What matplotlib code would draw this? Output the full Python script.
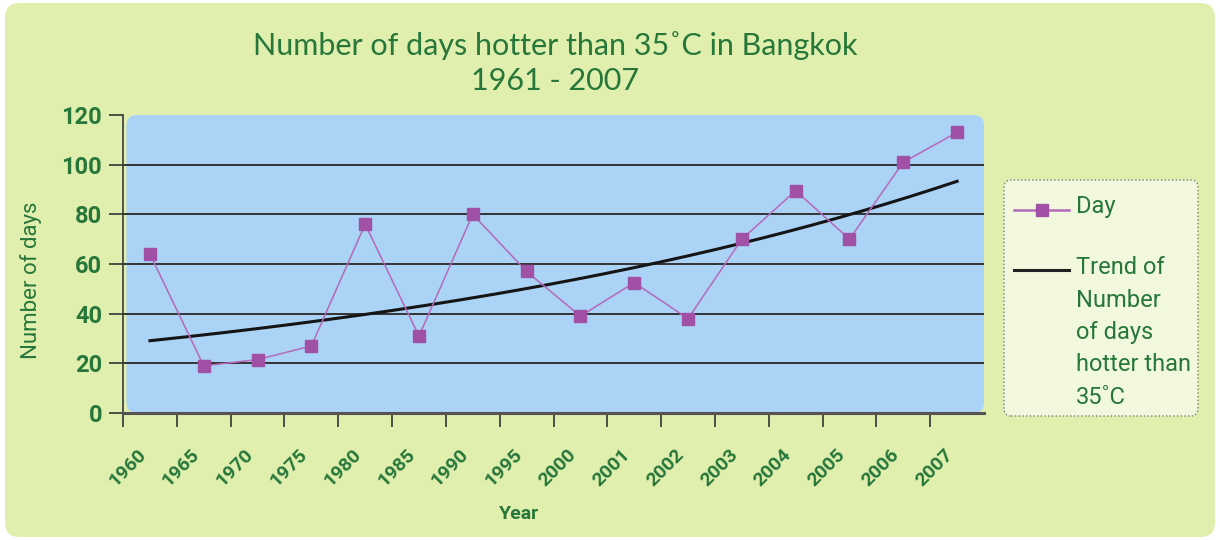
import numpy as np
import matplotlib.pyplot as plt
from matplotlib.patches import FancyBboxPatch
from matplotlib.lines import Line2D
from matplotlib.transforms import ScaledTranslation

# Datos del gráfico
years = ["1960", "1965", "1970", "1975", "1980", "1985", "1990", "1995",
         "2000", "2001", "2002", "2003", "2004", "2005", "2006", "2007"]
days = [64, 19, 21.5, 27, 76, 31, 80, 57, 39, 52.5, 38, 70, 89.5, 70, 101, 113]
y_ticks = [0, 20, 40, 60, 80, 100, 120]
day_label = "Day"
trend_label = "Trend of\nNumber\nof days\nhotter than\n35˚C"

green = "#27773a"
bg_green = "#e0efae"
plot_blue = "#abd3f5"
purple = "#a050a5"
line_purple = "#b46ab8"
fuente = ["Roboto", "DejaVu Sans"]

W, H = 1220, 540


def fx(px):
    return px / W


def fy(py):
    return 1 - py / H


x = np.arange(len(years))

# Tendencia exponencial (ajuste en escala logarítmica)
b, a = np.polyfit(x, np.log(days), 1)
xs = np.linspace(0, len(years) - 1, 200)
trend = np.exp(a + b * xs)

fig = plt.figure(figsize=(12.2, 5.4), dpi=100)
fig.patch.set_facecolor("white")
fig.patches.append(FancyBboxPatch((fx(5), fy(537)), fx(1210), 534 / H,
                                  boxstyle="round,pad=0,rounding_size=0.012",
                                  mutation_aspect=W / H,
                                  transform=fig.transFigure, facecolor=bg_green,
                                  edgecolor="none", zorder=-10))

ax = fig.add_axes([fx(123), fy(413), fx(861), 298 / H])
ax.set_facecolor("none")
ax.add_patch(FancyBboxPatch((0.004, 0), 0.996, 1,
                            boxstyle="round,pad=0,rounding_size=0.012",
                            mutation_aspect=861 / 298,
                            transform=ax.transAxes, facecolor=plot_blue,
                            edgecolor="none", zorder=0))

ax.plot(x, days, color=line_purple, lw=1.1, marker="s", markersize=8.5,
        markerfacecolor=purple, markeredgecolor=purple, zorder=4)
ax.plot(xs, trend, color="#151515", lw=2.2, zorder=3)

ax.set_xlim(-0.5, len(years) - 0.5)
ax.set_ylim(0, 120)
ax.set_yticks(y_ticks)
for v in y_ticks[1:-1]:
    ax.axhline(v, color="#333333", lw=1.4, zorder=1)

for s in ["top", "right"]:
    ax.spines[s].set_visible(False)
ax.spines["left"].set_color("#3a3a3a")
ax.spines["left"].set_linewidth(1.2)
ax.spines["bottom"].set_color("#555555")
ax.spines["bottom"].set_linewidth(2.2)

ax.tick_params(axis="y", length=10, width=1.2, color="#333333", pad=5,
               labelsize=17, labelcolor=green)
for t in ax.get_yticklabels():
    t.set_fontfamily(fuente)
    t.set_fontweight("bold")

ax.set_xticks(x)
ax.set_xticklabels(years, rotation=45, ha="right", va="center",
                   rotation_mode="anchor", fontsize=14, color=green,
                   fontweight="bold", family=fuente)
ax.tick_params(axis="x", which="major", length=0, pad=28)
ax.set_xticks(np.arange(-0.5, len(years) - 1), minor=True)
ax.tick_params(axis="x", which="minor", length=10, width=1.2, color="#333333")
off = ScaledTranslation(-5 / 72, 0, fig.dpi_scale_trans)
for t in ax.get_xticklabels():
    t.set_transform(t.get_transform() + off)

ax.set_ylabel("Number of days", fontsize=16, color=green, fontweight="normal",
              family=fuente)
ax.yaxis.set_label_coords(-0.094, 0.446)
ax.set_xlabel("Year", fontsize=14, color=green, fontweight="bold",
              family=fuente)
ax.xaxis.set_label_coords(0.46, -0.31)

fig.text(fx(555), fy(63),
         "Number of days hotter than 35˚C in Bangkok\n1961 - 2007",
         ha="center", va="center", fontsize=22, color=green,
         family=["Lato", "DejaVu Sans"], linespacing=1.3)

# Leyenda dibujada a mano
fig.patches.append(FancyBboxPatch((fx(1004), fy(416)), fx(194), 236 / H,
                                  boxstyle="round,pad=0,rounding_size=0.006",
                                  mutation_aspect=W / H,
                                  transform=fig.transFigure, facecolor="#f1f8de",
                                  edgecolor="#7a7a7a", linestyle=":", lw=1.0,
                                  zorder=-5))
fig.add_artist(Line2D([fx(1014), fx(1069)], [fy(210), fy(210)], color=line_purple,
                      lw=1.8))
fig.add_artist(Line2D([fx(1041.5)], [fy(210)], color=purple, lw=0, marker="s",
                      markersize=8.5, markerfacecolor=purple,
                      markeredgecolor=purple))
fig.add_artist(Line2D([fx(1014), fx(1069)], [fy(270), fy(270)], color="#202020",
                      lw=2.2))
fig.text(fx(1076), fy(207), day_label, ha="left", va="center", fontsize=17,
         color=green, family=fuente)
for i, linea in enumerate(trend_label.split("\n")):
    fig.text(fx(1076), fy(268 + 32.3 * i), linea, ha="left", va="center",
             fontsize=17, color=green, family=fuente)

fig.savefig("out.png", dpi=100)
